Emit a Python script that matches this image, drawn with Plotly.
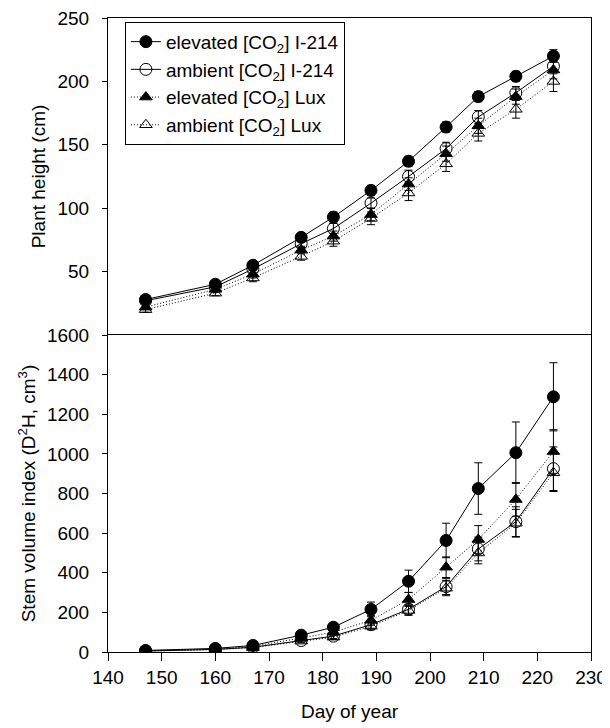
import plotly.graph_objects as go

days = [147, 160, 167, 176, 182, 189, 196, 203, 209, 216, 223]

# Plant height (cm)
h_elev_i214 = [28, 40, 55, 77, 93, 114, 137, 164, 188, 204, 220]
h_amb_i214 = [27, 38, 52, 72, 84, 104, 125, 147, 172, 191, 212]
h_elev_lux = [22, 36, 48, 67, 78, 95, 119, 143, 165, 188, 209]
h_amb_lux = [20, 33, 45, 62, 74, 92, 112, 135, 159, 178, 200]
h_err_elev_i214 = [2, 2, 3, 3, 4, 4, 4, 4, 4, 4, 5]
h_err_amb_i214 = [2, 2, 3, 3, 4, 4, 5, 5, 5, 5, 6]
h_err_elev_lux = [2, 2, 3, 3, 4, 5, 5, 6, 6, 6, 7]
h_err_amb_lux = [2, 2, 3, 3, 4, 5, 6, 6, 6, 7, 8]

# Stem volume index (D2H, cm3)
v_elev_i214 = [8, 18, 33, 85, 125, 215, 357, 563, 825, 1006, 1288]
v_amb_i214 = [5, 13, 24, 58, 80, 138, 216, 330, 520, 658, 925]
v_elev_lux = [6, 15, 28, 70, 100, 160, 265, 428, 568, 770, 1012]
v_amb_lux = [4, 12, 22, 55, 75, 130, 210, 322, 500, 650, 905]
v_err_elev_i214 = [3, 5, 8, 15, 20, 37, 56, 87, 130, 155, 172]
v_err_amb_i214 = [2, 3, 5, 8, 12, 18, 25, 40, 60, 75, 110]
v_err_elev_lux = [2, 4, 6, 10, 15, 25, 35, 52, 70, 85, 110]
v_err_amb_lux = [2, 3, 5, 8, 12, 18, 25, 38, 55, 70, 95]

names = ["elevated [CO<sub>2</sub>] I-214", "ambient [CO<sub>2</sub>] I-214",
         "elevated [CO<sub>2</sub>] Lux", "ambient [CO<sub>2</sub>] Lux"]
symbols = ["circle", "circle-open", "triangle-up", "triangle-up-open"]
sizes = [12, 12, 11, 11]
dashes = ["solid", "solid", "1px,2px", "1px,2px"]

heights = [h_elev_i214, h_amb_i214, h_elev_lux, h_amb_lux]
h_errs = [h_err_elev_i214, h_err_amb_i214, h_err_elev_lux, h_err_amb_lux]
vols = [v_elev_i214, v_amb_i214, v_elev_lux, v_amb_lux]
v_errs = [v_err_elev_i214, v_err_amb_i214, v_err_elev_lux, v_err_amb_lux]

fig = go.Figure()
for i in range(4):
    mk = dict(symbol=symbols[i], size=sizes[i], color="black",
              line=dict(color="black", width=1))
    fig.add_trace(go.Scatter(
        x=days, y=heights[i], name=names[i], mode="lines+markers",
        line=dict(color="black", width=1, dash=dashes[i]), marker=mk,
        error_y=dict(type="data", array=h_errs[i], color="black", thickness=1, width=4),
        xaxis="x2", yaxis="y2", showlegend=True))
for i in range(4):
    mk = dict(symbol=symbols[i], size=sizes[i], color="black",
              line=dict(color="black", width=1))
    fig.add_trace(go.Scatter(
        x=days, y=vols[i], name=names[i], mode="lines+markers",
        line=dict(color="black", width=1, dash=dashes[i]), marker=mk,
        error_y=dict(type="data", array=v_errs[i], color="black", thickness=1, width=4),
        xaxis="x", yaxis="y", showlegend=False))

FAM = "Liberation Sans, Arial, sans-serif"
FS = 19
font = dict(family=FAM, size=FS, color="black")

base_axis = dict(showline=True, linecolor="black", linewidth=1,
                 showgrid=False, zeroline=False, automargin=False,
                 ticklabeloverflow="allow",
                 tickfont=dict(family=FAM, size=FS, color="black"))

# The page body adds an 8px margin, so the figure is sized to 602x720
fig.update_layout(
    width=602, height=720,
    margin=dict(l=100, r=19, t=10, b=76),
    paper_bgcolor="white", plot_bgcolor="white",
    font=font,
    xaxis=dict(domain=[0, 1], range=[140, 230], tickvals=list(range(140, 231, 10)),
               ticks="outside", ticklen=8, tickcolor="black", anchor="y",
               ticklabelstandoff=0, mirror=True,
               title=dict(text="Day of year", standoff=17,
                          font=dict(family=FAM, size=FS, color="black")),
               **base_axis),
    yaxis=dict(domain=[0, 0.5], range=[0, 1600], tickvals=list(range(0, 1601, 200)),
               ticks="outside", ticklen=5, tickcolor="black", anchor="x",
               ticklabelstandoff=9, mirror=True,
               title=dict(text="Stem volume index (D<sup>2</sup>H, cm<sup>3</sup>)",
                          standoff=6, font=dict(family=FAM, size=FS, color="black")),
               **base_axis),
    xaxis2=dict(domain=[0, 1], range=[140, 230], showticklabels=False, ticks="",
                anchor="y2", matches="x", side="top", mirror=False, **base_axis),
    yaxis2=dict(domain=[0.5, 1], range=[0, 250], tickvals=[50, 100, 150, 200, 250],
                ticks="outside", ticklen=5, tickcolor="black", anchor="x2",
                ticklabelstandoff=9, mirror=True,
                title=dict(text="Plant height (cm)", standoff=6,
                           font=dict(family=FAM, size=FS, color="black")),
                **base_axis),
    legend=dict(x=0.035, y=0.994, xanchor="left", yanchor="top",
                bordercolor="black", borderwidth=1, bgcolor="white",
                font=dict(family=FAM, size=FS, color="black"),
                tracegroupgap=0, itemwidth=30),
)

fig.write_html("out.html")
